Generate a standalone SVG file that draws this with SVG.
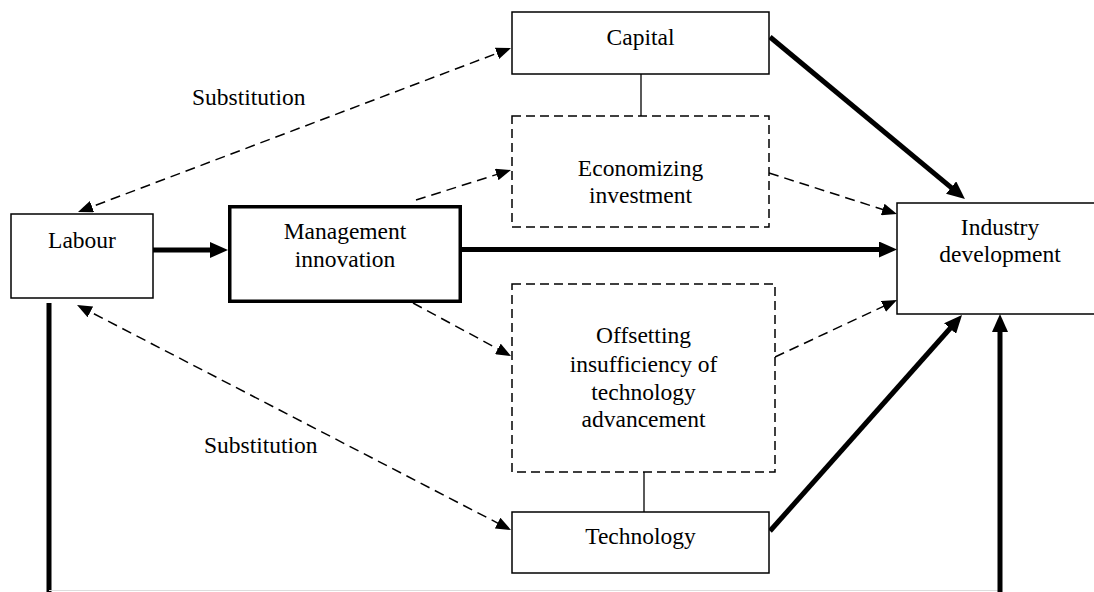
<svg xmlns="http://www.w3.org/2000/svg" width="1094" height="592" viewBox="0 0 1094 592">
  <style>
    .box { fill: #ffffff; stroke: #000000; stroke-width: 1.5; }
    .box-bold { fill: #ffffff; stroke: #000000; stroke-width: 3.5; }
    .box-dash { fill: #ffffff; stroke: #000000; stroke-width: 1.5; stroke-dasharray: 9 5; }
    .label { font-family: "Liberation Serif", "Times New Roman", serif; font-size: 23.5px; fill: #000000; text-anchor: middle; }
    .note { font-family: "Liberation Serif", "Times New Roman", serif; font-size: 23.5px; fill: #000000; }
    .thick { stroke: #000000; stroke-width: 5; fill: none; }
    .dashed { stroke: #000000; stroke-width: 1.5; fill: none; stroke-dasharray: 10 6; }
    .link { stroke: #000000; stroke-width: 1.3; fill: none; }
  </style>
  <defs>
    <marker id="arrow-bold" markerUnits="userSpaceOnUse" markerWidth="18" markerHeight="16" refX="10" refY="8" orient="auto">
      <path d="M0,0 L18,8 L0,16 z" fill="#000000"/>
    </marker>
    <marker id="arrow-dash" markerUnits="userSpaceOnUse" markerWidth="15" markerHeight="12" refX="12" refY="6" orient="auto-start-reverse">
      <path d="M0,0 L15,6 L0,12 z" fill="#000000"/>
    </marker>
  </defs>

  <rect width="1094" height="592" fill="#ffffff"/>

  <!-- connectors -->
  <g id="connectors">
    <!-- labour feedback loop along the bottom -->
    <line class="thick" x1="49" y1="303" x2="49" y2="596"/>
    <line x1="49" y1="590.5" x2="1000" y2="590.5" stroke="#dddddd" stroke-width="1"/>
    <line class="thick" x1="1000" y1="596" x2="1000" y2="322" marker-end="url(#arrow-bold)"/>

    <!-- main path -->
    <line class="thick" x1="153" y1="250" x2="220" y2="250" marker-end="url(#arrow-bold)"/>
    <line class="thick" x1="462" y1="249.5" x2="889" y2="249.5" marker-end="url(#arrow-bold)"/>
    <line class="thick" x1="770" y1="37" x2="958.8" y2="193.9" marker-end="url(#arrow-bold)"/>
    <line class="thick" x1="770" y1="531" x2="956.7" y2="321" marker-end="url(#arrow-bold)"/>

    <!-- substitution relations -->
    <line class="dashed" x1="80.8" y1="210.9" x2="508.2" y2="49.1" marker-start="url(#arrow-dash)" marker-end="url(#arrow-dash)"/>
    <line class="dashed" x1="79.7" y1="306.4" x2="508.3" y2="528.6" marker-start="url(#arrow-dash)" marker-end="url(#arrow-dash)"/>

    <!-- effects of management innovation -->
    <line class="dashed" x1="416" y1="200" x2="508.1" y2="170.9" marker-end="url(#arrow-dash)"/>
    <line class="dashed" x1="769" y1="173" x2="894.1" y2="213.1" marker-end="url(#arrow-dash)"/>
    <line class="dashed" x1="413" y1="303" x2="508.4" y2="354.6" marker-end="url(#arrow-dash)"/>
    <line class="dashed" x1="775" y1="357" x2="894.3" y2="301.3" marker-end="url(#arrow-dash)"/>

    <!-- plain links -->
    <line class="link" x1="641" y1="74" x2="641" y2="116"/>
    <line class="link" x1="644" y1="472" x2="644" y2="512"/>
  </g>

  <g id="labour">
    <rect class="box" x="11" y="214" width="142" height="84"/>
    <text class="label" x="82" y="248">Labour</text>
  </g>

  <g id="management-innovation">
    <rect class="box-bold" x="229.75" y="206.75" width="230.5" height="94.5"/>
    <text class="label" x="345" y="239">Management</text>
    <text class="label" x="345" y="267">innovation</text>
  </g>

  <g id="capital">
    <rect class="box" x="512" y="12" width="257" height="62"/>
    <text class="label" x="640.5" y="45">Capital</text>
  </g>

  <g id="economizing-investment">
    <rect class="box-dash" x="512" y="116" width="257" height="111"/>
    <text class="label" x="640.5" y="176">Economizing</text>
    <text class="label" x="640.5" y="203">investment</text>
  </g>

  <g id="offsetting">
    <rect class="box-dash" x="512" y="284" width="263" height="188"/>
    <text class="label" x="643.5" y="343">Offsetting</text>
    <text class="label" x="643.5" y="372">insufficiency of</text>
    <text class="label" x="643.5" y="400">technology</text>
    <text class="label" x="643.5" y="427">advancement</text>
  </g>

  <g id="technology">
    <rect class="box" x="512" y="512" width="257" height="61"/>
    <text class="label" x="640.5" y="544">Technology</text>
  </g>

  <g id="industry-development">
    <rect class="box" x="897" y="203" width="206" height="111"/>
    <text class="label" x="1000" y="235">Industry</text>
    <text class="label" x="1000" y="262">development</text>
  </g>

  <g id="substitution-labels">
    <text class="note" x="192" y="105">Substitution</text>
    <text class="note" x="204" y="453">Substitution</text>
  </g>
</svg>
